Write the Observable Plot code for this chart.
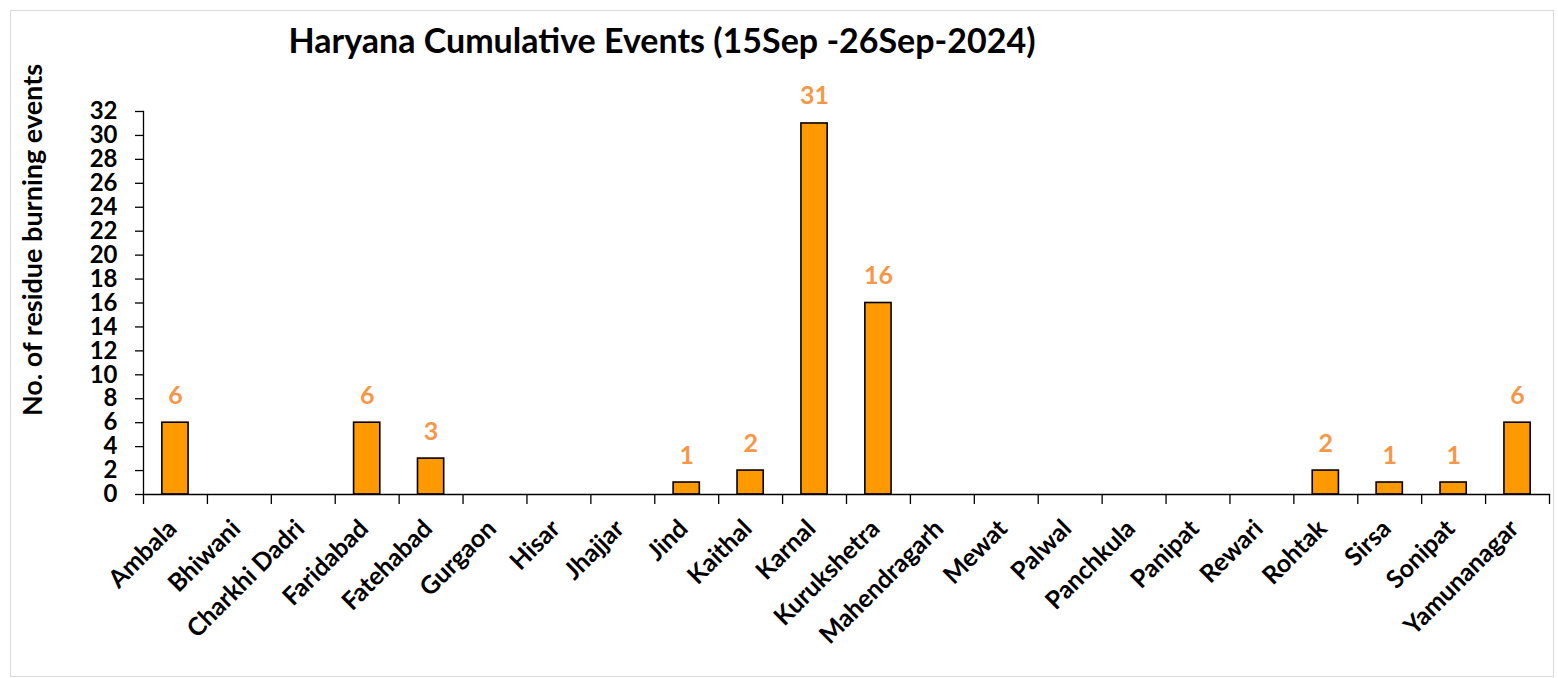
<!DOCTYPE html>
<html>
<head>
<meta charset="utf-8">
<script src="https://cdn.jsdelivr.net/npm/d3@7"></script>
<script src="https://cdn.jsdelivr.net/npm/@observablehq/plot@0.6"></script>
<style>
  html, body { margin: 0; padding: 0; background: #fff; }
  #frame { position: absolute; left: 10px; top: 10px; width: 1544px; height: 667px; border: 1px solid #d9d9d9; box-sizing: border-box; }
  #title { position: absolute; left: 0; width: 1324px; top: 18px; text-align: center; font-family: Lato, sans-serif; font-weight: bold; font-size: 34px; color: #000; line-height: 44px; }
  #chart { position: absolute; left: 0; top: 68px; }
  #chart svg { overflow: visible; }
</style>
</head>
<body>
<div id="frame"></div>
<div id="title">Haryana Cumulative Events (15Sep -26Sep-2024)</div>
<div id="chart"></div>
<script>
const districts = ["Ambala","Bhiwani","Charkhi Dadri","Faridabad","Fatehabad","Gurgaon","Hisar","Jhajjar","Jind","Kaithal","Karnal","Kurukshetra","Mahendragarh","Mewat","Palwal","Panchkula","Panipat","Rewari","Rohtak","Sirsa","Sonipat","Yamunanagar"];
const events = [6,0,0,6,3,0,0,0,1,2,31,16,0,0,0,0,0,0,2,1,1,6];
const yTicks = [0,2,4,6,8,10,12,14,16,18,20,22,24,26,28,30,32];
const yLabel = "No. of residue burning events";

const data = districts.map((d, i) => ({district: d, value: events[i]}));
const labeled = data.filter(d => d.value > 0);

const W = 1558, H = 600, mL = 143, mR = 9, mT = 43, mB = 174;
const step = (W - mL - mR) / districts.length;
const font = "Lato, sans-serif";

const chart = Plot.plot({
  width: W, height: H,
  marginLeft: mL, marginRight: mR, marginTop: mT, marginBottom: mB,
  style: {fontFamily: font, fontWeight: "bold", color: "#000", background: "transparent"},
  x: {domain: districts, paddingInner: 0.59, paddingOuter: 0.295, align: 0.5, round: false, axis: null},
  y: {domain: [0, 32], axis: null},
  marks: [
    Plot.barY(data, {x: "district", y: "value", fill: "#FF9900", stroke: "#000", strokeWidth: 1.6}),
    Plot.text(labeled, {x: "district", y: "value", text: d => String(d.value), dy: -27, fill: "#F79646", fontSize: 25, fontWeight: "bold"}),
    Plot.frame({anchor: "left", stroke: "#000", strokeWidth: 1.3}),
    Plot.frame({anchor: "bottom", stroke: "#000", strokeWidth: 1.3}),
    Plot.axisY(yTicks, {tickSize: 8, tickPadding: 18, fontSize: 24, fontWeight: "bold", label: null, stroke: "#000", strokeWidth: 1.3, tickFormat: d => String(d)}),
    Plot.axisX({tickSize: 10, dx: -step / 2, text: null, stroke: "#000", strokeWidth: 1.3, label: null}),
    Plot.axisX([districts[districts.length - 1]], {tickSize: 10, dx: step / 2, text: null, stroke: "#000", strokeWidth: 1.3, label: null}),
    Plot.axisX({tickSize: 0, tickRotate: -45, tickPadding: 30, fontSize: 25, fontWeight: "bold", label: null, dx: -3}),
    Plot.text([yLabel], {frameAnchor: "left", text: d => d, rotate: -90, textAnchor: "middle", dx: -110, dy: -63, fontSize: 27, fontWeight: "bold", fill: "#000"})
  ]
});
document.getElementById("chart").appendChild(chart);
</script>
</body>
</html>
